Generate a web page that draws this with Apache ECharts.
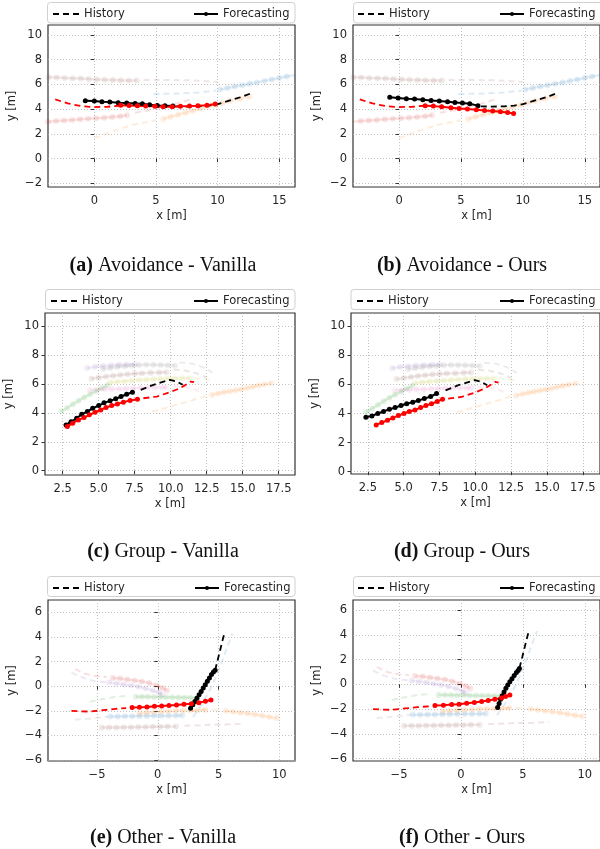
<!DOCTYPE html>
<html>
<head>
<meta charset="utf-8">
<script src="https://cdn.jsdelivr.net/npm/echarts@6/dist/echarts.min.js"></script>
<style>
  html, body { margin: 0; padding: 0; background: #fff; }
  #chart { width: 600px; height: 849px; }
</style>
</head>
<body>
<div id="chart"></div>
<script>
// ---- tick labels ----
const xTicksAvoid = [0, 5, 10, 15];
const yTicksAvoid = [-2, 0, 2, 4, 6, 8, 10];
const xTicksGroup = [2.5, 5, 7.5, 10, 12.5, 15, 17.5];
const yTicksGroup = [0, 2, 4, 6, 8, 10];
const xTicksOther = [-5, 0, 5, 10];
const yTicksOther = [-6, -4, -2, 0, 2, 4, 6];

const captions = [
  ["(a)", "Avoidance - Vanilla"], ["(b)", "Avoidance - Ours"],
  ["(c)", "Group - Vanilla"], ["(d)", "Group - Ours"],
  ["(e)", "Other - Vanilla"], ["(f)", "Other - Ours"]
];

// ---- avoidance scene (a, b) ----
const abBlackHist = [[6.6, 4.22], [7.5, 4.2], [8.5, 4.22], [9.3, 4.28], [10.0, 4.4], [11.0, 4.7], [12.0, 5.0], [12.9, 5.35]];
const abRedHist = [[-3.17, 4.78], [-2.15, 4.46], [-1.08, 4.24], [0, 4.16], [1.08, 4.19], [2.02, 4.27]];
const aBlackFc = [[-0.73, 4.68], [0, 4.65], [0.62, 4.59], [1.26, 4.57], [1.94, 4.51], [2.63, 4.49], [3.31, 4.46], [3.9, 4.43], [4.49, 4.35], [5.11, 4.3], [5.73, 4.27], [6.37, 4.24]];
const aRedFc = [[2.15, 4.32], [2.82, 4.3], [3.49, 4.27], [4.17, 4.24], [4.92, 4.22], [5.59, 4.19], [6.32, 4.19], [6.99, 4.22], [7.72, 4.24], [8.41, 4.27], [9.14, 4.32], [9.81, 4.41]];
const bBlackFc = [[-0.75, 4.95], [-0.08, 4.89], [0.59, 4.84], [1.25, 4.81], [1.92, 4.76], [2.59, 4.7], [3.25, 4.65], [3.92, 4.59], [4.51, 4.54], [5.12, 4.49], [5.71, 4.43], [6.37, 4.28]];
const bRedFc = [[2.11, 4.27], [2.77, 4.24], [3.44, 4.19], [4.19, 4.11], [4.85, 4.05], [5.52, 4.0], [6.24, 3.95], [6.91, 3.89], [7.57, 3.84], [8.19, 3.78], [8.77, 3.73], [9.25, 3.65]];

const abBrownFc = [[-3.7, 6.57], [-3.05, 6.55], [-2.4, 6.52], [-1.75, 6.5], [-1.1, 6.47], [-0.45, 6.43], [0.2, 6.4], [0.85, 6.37], [1.5, 6.35], [2.15, 6.33], [2.8, 6.32], [3.45, 6.32]];
const abBrownHist = [[4.0, 6.35], [6.0, 6.36], [8.0, 6.32], [10.0, 6.2]];
const abRedFaintFc = [[-3.75, 2.97], [-3.1, 3.03], [-2.45, 3.08], [-1.8, 3.12], [-1.15, 3.17], [-0.5, 3.21], [0.15, 3.26], [0.8, 3.3], [1.45, 3.36], [2.1, 3.43], [2.65, 3.51]];
const abRedFaintHist = [[3.3, 3.7], [5.0, 4.0], [6.5, 4.4], [8.0, 4.84]];
const abBlueHist = [[4.8, 5.22], [6.5, 5.25], [8.5, 5.35], [9.9, 5.5]];
const abBlueFc = [[10.2, 5.59], [10.8, 5.7], [11.4, 5.82], [12.0, 5.93], [12.6, 6.05], [13.2, 6.16], [13.8, 6.28], [14.4, 6.4], [15.0, 6.52], [15.6, 6.63], [16.3, 6.76]];
const abOrangeHist = [[0, 1.65], [1.5, 2.2], [3.0, 2.7], [5.0, 3.1]];
const abOrangeFc = [[5.6, 3.2], [6.2, 3.38], [6.8, 3.55], [7.4, 3.7], [8.0, 3.86], [8.6, 4.02], [9.2, 4.18], [9.8, 4.34], [10.4, 4.5], [11.0, 4.65], [11.8, 4.84], [12.6, 5.0]];

// ---- group scene (c, d) ----
const cdBlackHist = [[7.92, 5.6], [8.8, 5.95], [9.95, 6.3], [10.42, 6.18], [10.83, 5.95]];
const cdRedHist = [[8.1, 5.02], [9.03, 5.14], [9.95, 5.44], [10.65, 5.72], [11.11, 6.0], [11.39, 6.18], [11.62, 6.13]];
const cBlackFc = [[2.73, 3.17], [3.08, 3.4], [3.47, 3.63], [3.82, 3.91], [4.21, 4.1], [4.58, 4.33], [5.0, 4.51], [5.37, 4.7], [5.79, 4.84], [6.18, 4.98], [6.55, 5.14], [6.94, 5.3], [7.34, 5.44]];
const cRedFc = [[2.82, 3.06], [3.19, 3.29], [3.59, 3.52], [3.98, 3.68], [4.35, 3.87], [4.75, 4.05], [5.14, 4.21], [5.51, 4.38], [5.9, 4.51], [6.3, 4.63], [6.71, 4.75], [7.18, 4.86], [7.69, 4.95]];
const dBlackFc = [[2.36, 3.75], [2.78, 3.84], [3.19, 4.0], [3.59, 4.14], [4.0, 4.3], [4.4, 4.41], [4.81, 4.55], [5.21, 4.67], [5.63, 4.78], [6.02, 4.9], [6.44, 5.03], [6.88, 5.17], [7.29, 5.38]];
const dRedFc = [[3.08, 3.22], [3.47, 3.38], [3.87, 3.54], [4.24, 3.7], [4.63, 3.86], [5.02, 4.0], [5.39, 4.14], [5.79, 4.25], [6.18, 4.41], [6.55, 4.55], [6.94, 4.67], [7.34, 4.83], [7.71, 4.99]];

const cdPurpleFc = [[4.2, 7.12], [4.75, 7.2], [5.3, 7.26], [5.85, 7.3], [6.4, 7.34], [6.95, 7.36], [7.5, 7.37]];
const cdGrayFc = [[5.3, 7.05], [5.8, 7.12], [6.3, 7.18], [6.8, 7.24], [7.3, 7.28], [7.8, 7.32], [8.3, 7.34], [8.8, 7.34], [9.3, 7.32], [9.8, 7.3], [10.3, 7.28]];
const cdGrayHist = [[10.6, 7.5], [11.5, 7.42], [12.3, 7.15], [12.9, 6.8]];
const cdBrownFc = [[4.5, 6.37], [5.0, 6.45], [5.5, 6.52], [6.0, 6.58], [6.5, 6.63], [7.0, 6.68], [7.5, 6.72], [8.0, 6.76], [8.6, 6.78], [9.2, 6.8], [9.7, 6.83]];
const cdBrownHist = [[10.2, 7.0], [11.0, 6.95], [11.8, 6.75], [12.5, 6.46]];
const cdOliveFc = [[5.8, 6.11], [6.3, 6.16], [6.8, 6.2], [7.3, 6.24], [7.8, 6.28], [8.3, 6.31], [8.8, 6.34], [9.3, 6.37], [9.8, 6.39], [10.3, 6.4], [10.8, 6.41], [11.3, 6.41]];
const cdOliveHist = [[11.6, 6.41], [12.2, 6.38], [12.75, 6.3]];
const cdPinkFc = [[4.4, 5.6], [4.9, 5.62], [5.4, 5.64], [5.9, 5.66], [6.4, 5.68], [6.9, 5.7], [7.4, 5.72], [7.9, 5.74], [8.4, 5.75], [8.9, 5.76], [9.4, 5.76], [9.7, 5.76]];
const cdPinkHist = [[10.2, 5.83], [11.0, 5.8], [11.6, 5.65], [12.0, 5.49]];
const cdGreenFc = [[2.4, 4.12], [2.8, 4.35], [3.2, 4.6], [3.6, 4.85], [4.0, 5.08], [4.4, 5.3], [4.8, 5.5], [5.2, 5.72], [5.6, 5.92]];
const cdOrangeHist = [[8.7, 4.1], [10.0, 4.45], [11.4, 4.85], [12.7, 5.25]];
const cdOrangeFc = [[12.85, 5.25], [13.3, 5.35], [13.7, 5.43], [14.1, 5.5], [14.5, 5.58], [14.9, 5.65], [15.3, 5.73], [15.7, 5.82], [16.1, 5.9], [16.5, 5.98], [17.0, 6.06]];

// ---- other scene (e, f) ----
const efBlackHist = [[4.72, 1.3], [4.95, 2.2], [5.15, 3.0], [5.32, 3.7], [5.5, 4.35]];
const efRedHist = [[-7.1, -2.0], [-6.3, -2.05], [-5.6, -2.06], [-4.5, -1.95], [-3.5, -1.85], [-2.6, -1.78]];
const eBlackFc = [[2.7, -1.8], [2.88, -1.52], [3.05, -1.25], [3.22, -0.98], [3.4, -0.7], [3.57, -0.43], [3.74, -0.15], [3.91, 0.12], [4.08, 0.4], [4.25, 0.67], [4.42, 0.95], [4.58, 1.15], [4.72, 1.3]];
const eRedFc = [[-2.11, -1.74], [-1.51, -1.72], [-0.89, -1.69], [-0.27, -1.64], [0.32, -1.61], [0.92, -1.58], [1.54, -1.53], [2.16, -1.47], [2.76, -1.42], [3.38, -1.34], [3.92, -1.23], [4.38, -1.13]];
const fBlackFc = [[2.96, -1.88], [3.08, -1.55], [3.2, -1.22], [3.33, -0.92], [3.48, -0.62], [3.63, -0.33], [3.78, -0.06], [3.95, 0.2], [4.12, 0.45], [4.3, 0.7], [4.48, 0.95], [4.62, 1.12], [4.72, 1.28]];
const fRedFc = [[-2.1, -1.72], [-1.42, -1.69], [-0.75, -1.64], [-0.16, -1.61], [0.46, -1.53], [1.08, -1.47], [1.67, -1.39], [2.2, -1.31], [2.74, -1.21], [3.28, -1.1], [3.6, -0.99], [3.95, -0.86]];

const efRedFaintHist = [[-6.8, 1.4], [-6.0, 1.0], [-5.0, 0.8], [-4.2, 0.75]];
const efRedFaintFc = [[-3.7, 0.67], [-3.1, 0.62], [-2.5, 0.55], [-1.9, 0.47], [-1.3, 0.38], [-0.7, 0.25], [-0.1, 0.05], [0.4, -0.15], [0.75, -0.35]];
const efPurpleHist = [[-7.1, 1.1], [-6.2, 0.7], [-5.2, 0.4], [-4.1, 0.3]];
const efPurpleFc = [[-4.0, 0.29], [-3.4, 0.22], [-2.8, 0.14], [-2.2, 0.05], [-1.6, -0.05], [-1.0, -0.18], [-0.4, -0.35], [0.1, -0.52], [0.35, -0.67]];
const efGreenHist = [[-5.6, -1.27], [-4.5, -1.05], [-3.4, -0.85], [-2.4, -0.78]];
const efGreenFc = [[-1.8, -0.86], [-1.3, -0.86], [-0.8, -0.87], [-0.3, -0.88], [0.2, -0.88], [0.7, -0.9], [1.2, -0.91], [1.7, -0.92], [2.2, -0.93], [2.7, -0.94], [3.2, -0.94]];
const efOrangeHist = [[2.8, -2.05], [3.5, -1.9], [4.3, -1.9], [5.2, -1.95]];
const efOrangeFc = [[5.6, -2.0], [6.2, -2.08], [6.8, -2.15], [7.4, -2.22], [8.0, -2.3], [8.6, -2.4], [9.2, -2.5], [9.8, -2.58]];
const efBlueHist = [[2.9, -2.5], [3.6, -1.5], [4.3, -0.3], [4.9, 1.0], [5.4, 2.3], [5.8, 3.4], [6.15, 4.3]];
const efBrownFc = [[-4.6, -3.35], [-4.0, -3.35], [-3.4, -3.35], [-2.8, -3.34], [-2.2, -3.33], [-1.6, -3.32], [-1.0, -3.31], [-0.4, -3.3], [0.2, -3.29], [0.8, -3.28], [1.5, -3.27]];
const efBrownHist = [[2.2, -3.22], [4.0, -3.15], [5.6, -3.12], [7.1, -3.05]];
const efGrayHist = [[-6.8, -2.73], [-5.8, -2.65], [-4.8, -2.55], [-4.0, -2.47]];
const efGrayFc = [[-3.9, -2.47], [-3.3, -2.46], [-2.7, -2.45], [-2.1, -2.44], [-1.5, -2.43], [-0.9, -2.42], [-0.3, -2.41], [0.3, -2.4], [0.9, -2.4], [1.5, -2.39], [2.0, -2.38]];
const efBeigeFc = [[-1.5, -2.2], [-0.9, -2.14], [-0.3, -2.1], [0.3, -2.06], [0.9, -2.03], [1.5, -2.0], [2.1, -1.98], [2.7, -1.97], [3.3, -1.96], [3.9, -1.94]];

const tab = {
  blue: "#1f77b4", orange: "#ff7f0e", green: "#2ca02c", red: "#d62728",
  purple: "#9467bd", brown: "#8c564b", pink: "#e377c2", gray: "#7f7f7f", olive: "#bcbd22"
};

// faint background agents per scene: [data, colour, isForecast]
const bgAvoid = [
  [abBrownFc, tab.brown, true], [abBrownHist, tab.brown, false],
  [abRedFaintFc, tab.red, true], [abRedFaintHist, tab.red, false],
  [abBlueHist, tab.blue, false], [abBlueFc, tab.blue, true],
  [abOrangeHist, tab.orange, false], [abOrangeFc, tab.orange, true]
];
const bgGroup = [
  [cdPurpleFc, tab.purple, true], [cdGrayFc, tab.gray, true], [cdGrayHist, tab.gray, false],
  [cdBrownFc, tab.brown, true], [cdBrownHist, tab.brown, false],
  [cdOliveFc, tab.olive, true], [cdOliveHist, tab.olive, false],
  [cdPinkFc, tab.pink, true], [cdPinkHist, tab.pink, false],
  [cdGreenFc, tab.green, true],
  [cdOrangeHist, tab.orange, false], [cdOrangeFc, tab.orange, true]
];
const bgOther = [
  [efRedFaintHist, tab.red, false], [efRedFaintFc, tab.red, true],
  [efPurpleHist, tab.purple, false], [efPurpleFc, tab.purple, true],
  [efGreenHist, tab.green, false], [efGreenFc, tab.green, true],
  [efOrangeHist, tab.orange, false], [efOrangeFc, tab.orange, true],
  [efBlueHist, tab.blue, false],
  [efBrownFc, tab.brown, true], [efBrownHist, tab.brown, false],
  [efGrayHist, tab.gray, false], [efGrayFc, tab.blue, true], [efBeigeFc, tab.orange, true]
];

// panel layout (pixels) and axis ranges
const panels = [
  { g: [48, 25, 247, 162], x: [-3.755, 16.28], y: [-2.3, 10.8], xt: xTicksAvoid, yt: yTicksAvoid, bg: bgAvoid, bh: abBlackHist, rh: abRedHist, bf: aBlackFc, rf: aRedFc, leg: [52, 193, 8], box: [47.5, 2.5, 247.5, 20.5], cap: [158, 251] },
  { g: [353, 25, 248, 162], x: [-3.72, 16.23], y: [-2.3, 10.8], xt: xTicksAvoid, yt: yTicksAvoid, bg: bgAvoid, bh: abBlackHist, rh: abRedHist, bf: bBlackFc, rf: bRedFc, leg: [357, 499, 8], box: [353.5, 2.5, 260, 20.5], cap: [457, 251] },
  { g: [45, 313, 250, 162], x: [1.27, 18.63], y: [-0.3, 10.93], xt: xTicksGroup, yt: yTicksGroup, bg: bgGroup, bh: cdBlackHist, rh: cdRedHist, bf: cBlackFc, rf: cRedFc, leg: [50, 193, 295], box: [45.5, 289.5, 249.5, 20], cap: [158, 537], xf: 1 },
  { g: [351, 313, 250, 161], x: [1.32, 18.7], y: [-0.16, 10.92], xt: xTicksGroup, yt: yTicksGroup, bg: bgGroup, bh: cdBlackHist, rh: cdRedHist, bf: dBlackFc, rf: dRedFc, leg: [356, 499, 295], box: [351, 289.5, 260, 20], cap: [457, 537], xf: 1 },
  { g: [48, 600, 247, 161], x: [-9.03, 11.29], y: [-6.08, 7.0], xt: xTicksOther, yt: yTicksOther, bg: bgOther, bh: efBlackHist, rh: efRedHist, bf: eBlackFc, rf: eRedFc, leg: [52, 194, 582], box: [47.5, 576.5, 247.5, 20], cap: [158, 823] },
  { g: [353, 600, 248, 161], x: [-8.72, 11.23], y: [-6.2, 6.81], xt: xTicksOther, yt: yTicksOther, bg: bgOther, bh: efBlackHist, rh: efRedHist, bf: fBlackFc, rf: fRedFc, leg: [357, 499, 582], box: [353.5, 576.5, 260, 20], cap: [457, 823] }
];

const font = "DejaVu Sans";
const txt = "#262626";
const minus = v => String(v).replace("-", "\u2212");

const grids = [], xAxes = [], yAxes = [], series = [], legends = [], titles = [], frames = [];

function dashed(gi, data, color, name, faint) {
  return {
    type: "line", name: name, xAxisIndex: gi, yAxisIndex: gi, data: data,
    symbol: "none", silent: true, z: faint ? 2 : 5,
    lineStyle: { color: color, width: faint ? 2 : 1.8, type: [6, 4], opacity: faint ? 0.15 : 1 }
  };
}
function dotted(gi, data, color, name, faint) {
  return {
    type: "line", name: name, xAxisIndex: gi, yAxisIndex: gi, data: data,
    symbol: "circle", symbolSize: faint ? 6 : 5, showAllSymbol: true, silent: true, z: faint ? 2 : 6,
    itemStyle: { color: color, opacity: faint ? 0.12 : 1 },
    lineStyle: { color: color, width: faint ? 2.5 : 2, opacity: faint ? 0.12 : 1 }
  };
}

panels.forEach((p, i) => {
  grids.push({ left: p.g[0], top: p.g[1], width: p.g[2], height: p.g[3], show: true,
    borderColor: "#333", borderWidth: 1.2, backgroundColor: "transparent" });
  xAxes.push({
    gridIndex: i, type: "value", min: p.x[0], max: p.x[1],
    name: "x [m]", nameLocation: "middle", nameGap: 23,
    nameTextStyle: { fontFamily: font, fontSize: 11.5, color: txt },
    axisLine: { show: false },
    axisTick: { show: true, length: 3.5, customValues: p.xt, lineStyle: { color: "#333" } },
    axisLabel: { customValues: p.xt, margin: 8, fontFamily: font, fontSize: 11.5, color: txt,
      formatter: v => p.xf ? v.toFixed(1) : minus(v) },
    splitLine: { show: true, lineStyle: { color: "#b0b0b0", type: [1, 2], width: 0.8 } }
  });
  yAxes.push({
    gridIndex: i, type: "value", min: p.y[0], max: p.y[1],
    name: "y [m]", nameLocation: "middle", nameGap: 30, nameRotate: 90,
    nameTextStyle: { fontFamily: font, fontSize: 11.5, color: txt },
    axisLine: { show: false },
    axisTick: { show: true, length: 3.5, customValues: p.yt, lineStyle: { color: "#333" } },
    axisLabel: { customValues: p.yt, margin: 6, fontFamily: font, fontSize: 11.5, color: txt,
      formatter: v => minus(v) },
    splitLine: { show: true, lineStyle: { color: "#b0b0b0", type: [1, 2], width: 0.8 } }
  });

  p.bg.forEach(b => series.push(b[2] ? dotted(i, b[0], b[1], "bg", true) : dashed(i, b[0], b[1], "bg", true)));
  series.push(dashed(i, p.bh, "#000", "History", false));
  series.push(dotted(i, p.bf, "#000", "Forecasting", false));
  series.push(dashed(i, p.rh, "#ff0000", "target-history", false));
  series.push(dotted(i, p.rf, "#ff0000", "target-forecast", false));

  const legText = { fontFamily: font, fontSize: 11.5, color: txt };
  legends.push({ left: p.leg[0], top: p.leg[2], padding: 0, itemWidth: 26, itemHeight: 5, itemGap: 0,
    selectedMode: false, textStyle: legText, data: [{ name: "History", itemStyle: { opacity: 0 } }] });
  legends.push({ left: p.leg[1], top: p.leg[2], padding: 0, itemWidth: 24, itemHeight: 5, itemGap: 0,
    selectedMode: false, textStyle: legText, data: ["Forecasting"] });

  frames.push({ type: "rect", silent: true, z: 0,
    shape: { x: p.box[0], y: p.box[1], width: p.box[2], height: p.box[3], r: 3 },
    style: { fill: "#fff", stroke: "#d0d0d0", lineWidth: 1 } });

  titles.push({
    text: "{b|" + captions[i][0] + "} " + captions[i][1],
    left: p.cap[0], top: p.cap[1], textAlign: "center",
    textStyle: { fontFamily: "Liberation Serif", fontSize: 20, fontWeight: "normal", color: "#111",
      rich: { b: { fontFamily: "Liberation Serif", fontSize: 20, fontWeight: "bold", color: "#111" } } }
  });
});

const chart = echarts.init(document.getElementById("chart"), null, { renderer: "canvas" });
chart.setOption({
  animation: false,
  backgroundColor: "#fff",
  title: titles,
  legend: legends,
  graphic: frames,
  grid: grids,
  xAxis: xAxes,
  yAxis: yAxes,
  series: series
});
</script>
</body>
</html>
